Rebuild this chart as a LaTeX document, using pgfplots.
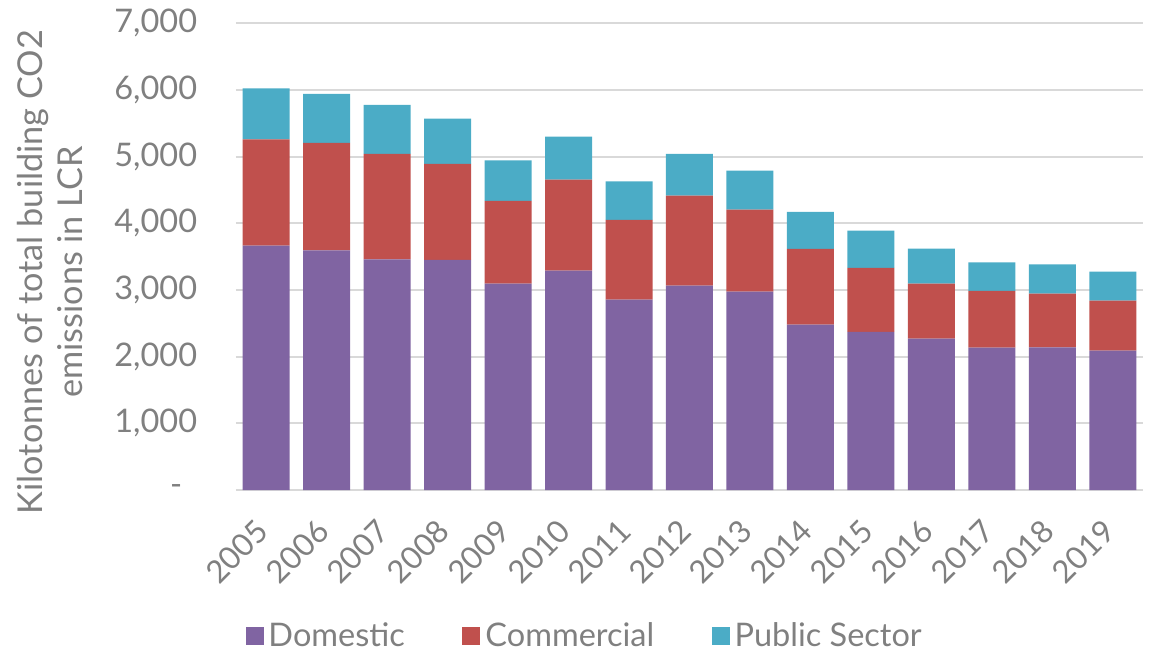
\documentclass[border=0pt]{standalone}
\usepackage{fontspec}
\setmainfont{Lato}
\usepackage{pgfplots}
\pgfplotsset{compat=1.18}
\definecolor{dom}{HTML}{8064A2}
\definecolor{com}{HTML}{C0504D}
\definecolor{pub}{HTML}{4BACC6}
\definecolor{txt}{HTML}{808080}
\definecolor{gridc}{HTML}{D9D9D9}
\begin{document}
\begin{tikzpicture}
\useasboundingbox (-94.4pt,-64.8pt) rectangle (366.8pt,196pt);
\begin{axis}[
  at={(0,0)}, anchor=south west,
  scale only axis, width=362.8pt, height=186.7pt,
  ybar stacked, bar width=18.8pt,
  xmin=-0.5, xmax=14.5, ymin=0, ymax=7000,
  xtick={0,...,14},
  xticklabels={2005,2006,2007,2008,2009,2010,2011,2012,2013,2014,2015,2016,2017,2018,2019},
  ytick={0,1000,2000,3000,4000,5000,6000,7000},
  yticklabels={{-\kern6pt},{1,000},{2,000},{3,000},{4,000},{5,000},{6,000},{7,000}},
  axis x line*=bottom, axis y line*=left,
  y axis line style={draw=none},
  x axis line style={draw=gridc, line width=0.8pt},
  ymajorgrids, major grid style={draw=gridc, line width=0.8pt},
  tick style={draw=none},
  yticklabel style={font=\fontsize{13}{15}\selectfont, text=txt, xshift=-12pt},
  xticklabel style={yshift=-12pt, xshift=1pt, rotate=45, anchor=east, font=\fontsize{12.5}{15}\selectfont, text=txt},
  ylabel={Kilotonnes of total building CO2\\emissions in LCR},
  ylabel style={font=\fontsize{13.7}{16}\selectfont, text=txt, align=center, at={(axis description cs:-0.159,0.467)}, anchor=south, rotate=0},
  legend style={at={(0.386,-0.313)}, anchor=center, draw=none, fill=none, legend columns=3,
    font=\fontsize{13}{15}\selectfont, text=txt,
    /tikz/every even column/.append style={column sep=21pt}},
  legend image code/.code={\fill[#1] (0pt,-3.6pt) rectangle (7.2pt,3.6pt);},
]
\addplot[fill=dom, draw=none] coordinates {(0,3665) (1,3595) (2,3460) (3,3450) (4,3095) (5,3290) (6,2855) (7,3065) (8,2975) (9,2480) (10,2370) (11,2270) (12,2135) (13,2140) (14,2090)};
\addplot[fill=com, draw=none] coordinates {(0,1595) (1,1610) (2,1580) (3,1440) (4,1240) (5,1365) (6,1195) (7,1350) (8,1230) (9,1135) (10,960) (11,825) (12,850) (13,805) (14,750)};
\addplot[fill=pub, draw=none] coordinates {(0,765) (1,735) (2,735) (3,680) (4,610) (5,645) (6,580) (7,625) (8,585) (9,555) (10,560) (11,525) (12,430) (13,440) (14,435)};
\legend{Domestic,Commercial,Public Sector}
\end{axis}
\end{tikzpicture}
\end{document}
